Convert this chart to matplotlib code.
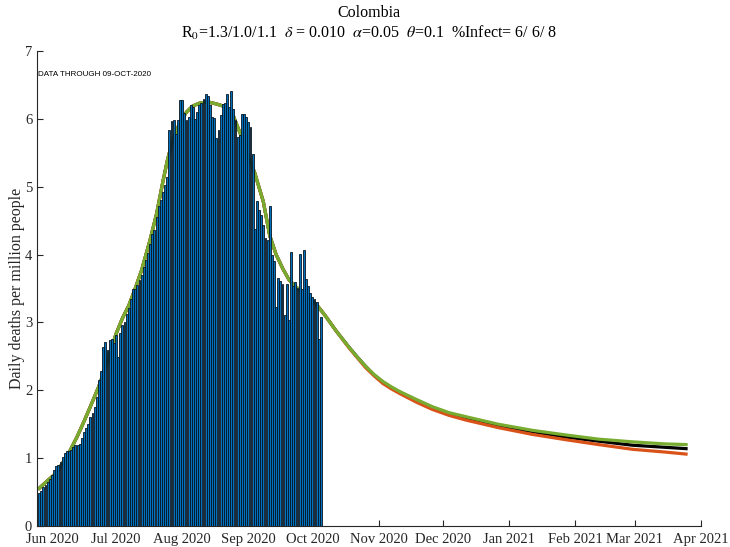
import matplotlib
matplotlib.use("Agg")
import matplotlib.pyplot as plt
import matplotlib.dates as mdates
import numpy as np
from datetime import datetime, timedelta

plt.rcParams['font.family'] = ['Liberation Serif', 'DejaVu Serif']
plt.rcParams['mathtext.fontset'] = 'stix'

# ---- data ----
bar_start = datetime(2020, 5, 26)
daily_deaths = [
    0.49, 0.52, 0.58, 0.61, 0.65, 0.69, 0.75, 0.82, 0.89, 0.90,
    0.95, 1.01, 1.07, 1.11, 1.11, 1.12, 1.17, 1.19, 1.20, 1.21,
    1.29, 1.39, 1.45, 1.51, 1.61, 1.66, 1.76, 1.90, 2.15, 2.28,
    2.64, 2.71, 2.60, 2.74, 2.75, 2.70, 2.81, 2.49, 2.84, 2.96,
    3.00, 3.12, 3.22, 3.35, 3.49, 3.50, 3.55, 3.63, 3.70, 3.82,
    3.92, 4.02, 4.16, 4.31, 4.36, 4.56, 4.71, 4.80, 4.92, 5.02,
    5.14, 5.84, 5.97, 5.98, 5.78, 5.98, 6.28, 6.28, 6.09, 5.98,
    6.03, 6.20, 6.18, 6.00, 6.10, 6.20, 6.23, 6.30, 6.37, 6.33,
    6.20, 6.03, 6.01, 5.72, 5.83, 6.05, 6.22, 6.23, 6.37, 6.18,
    6.41, 6.15, 5.99, 5.74, 5.76, 6.07, 6.07, 6.03, 5.96, 5.88,
    5.48, 4.38, 4.79, 4.65, 4.58, 4.43, 4.24, 4.22, 4.71, 3.99,
    3.90, 3.23, 3.66, 3.61, 3.57, 3.11, 3.56, 3.03, 4.04, 3.54,
    3.59, 3.51, 4.01, 3.49, 4.07, 3.64, 3.54, 3.43, 3.37, 3.34,
    3.30, 2.76, 3.08,
]

# model curves: day offsets from bar_start and values
line_days = [0, 4, 8, 11, 14, 18, 21, 24, 28, 32, 36, 39, 42, 45, 48, 52, 55, 58,
             60, 62, 64, 66, 69, 72, 75, 79, 83, 86, 89, 91, 93, 95, 98, 101, 105,
             108, 111, 114, 117, 120, 125, 130, 134, 139, 145, 149, 153, 157, 161,
             165, 169, 177, 184, 192, 200, 215, 231, 247, 262, 278, 293, 303]
green_vals = [0.555, 0.67, 0.78, 0.93, 1.08, 1.33, 1.54, 1.76, 2.06, 2.42, 2.83, 3.06,
              3.25, 3.50, 3.77, 4.22, 4.60, 5.08, 5.38, 5.62, 5.80, 5.95, 6.10, 6.19,
              6.23, 6.25, 6.22, 6.19, 6.10, 6.04, 5.88, 5.72, 5.45, 5.20, 4.78, 4.28,
              4.00, 3.80, 3.63, 3.53, 3.40, 3.26, 3.10, 2.88, 2.64, 2.49, 2.35, 2.23,
              2.13, 2.05, 1.98, 1.86, 1.76, 1.67, 1.61, 1.50, 1.41, 1.34, 1.28, 1.24,
              1.21, 1.20]
black_vals = [0.555, 0.67, 0.78, 0.93, 1.08, 1.33, 1.54, 1.76, 2.06, 2.42, 2.83, 3.06,
              3.25, 3.50, 3.77, 4.22, 4.60, 5.08, 5.38, 5.62, 5.80, 5.95, 6.10, 6.19,
              6.23, 6.25, 6.22, 6.19, 6.10, 6.04, 5.88, 5.72, 5.45, 5.20, 4.78, 4.28,
              4.00, 3.80, 3.63, 3.53, 3.40, 3.26, 3.10, 2.88, 2.64, 2.49, 2.35, 2.22,
              2.12, 2.04, 1.97, 1.85, 1.75, 1.66, 1.59, 1.48, 1.39, 1.31, 1.25, 1.19,
              1.16, 1.14]
orange_vals = [0.555, 0.67, 0.78, 0.93, 1.08, 1.33, 1.54, 1.76, 2.06, 2.42, 2.83, 3.06,
               3.25, 3.50, 3.77, 4.22, 4.60, 5.08, 5.38, 5.62, 5.80, 5.95, 6.10, 6.19,
               6.23, 6.25, 6.22, 6.19, 6.10, 6.04, 5.88, 5.72, 5.45, 5.20, 4.78, 4.28,
               4.00, 3.80, 3.63, 3.53, 3.40, 3.26, 3.10, 2.88, 2.63, 2.48, 2.33, 2.21,
               2.10, 2.02, 1.95, 1.82, 1.72, 1.63, 1.56, 1.45, 1.35, 1.27, 1.20, 1.13,
               1.09, 1.06]

title_line1 = "Colombia"
title_line2 = r"R$_0$=1.3/1.0/1.1  $\delta$ = 0.010  $\alpha$=0.05  $\theta$=0.1  %Infect= 6/ 6/ 8"
ylabel = "Daily deaths per million people"
note = "DATA THROUGH 09-OCT-2020"

# ---- figure ----
fig = plt.figure(figsize=(7.30, 5.47), dpi=100)
ax = fig.add_axes([37/730, 1 - 526/547, (701 - 37)/730, (526 - 51)/547])

bar_dates = [bar_start + timedelta(days=i) for i in range(len(daily_deaths))]
line_dates = [bar_start + timedelta(days=d) for d in line_days]

ax.plot(line_dates, black_vals, color='black', lw=2.3, zorder=2, solid_joinstyle='round')
ax.plot(line_dates, orange_vals, color='#D95319', lw=2.3, zorder=2.1, solid_joinstyle='round')
ax.plot(line_dates, green_vals, color='#77AC30', lw=2.3, zorder=2.2, solid_joinstyle='round')
ax.bar(bar_dates, daily_deaths, width=0.88, color='#0072BD', edgecolor='#081420',
       linewidth=0.6, zorder=3)

ax.set_xlim(datetime(2020, 5, 25), datetime(2021, 4, 1))
ax.set_ylim(0, 7)
ax.set_yticks(range(0, 8))
ax.xaxis.set_major_locator(mdates.MonthLocator())
ax.xaxis.set_major_formatter(mdates.DateFormatter('%b %Y'))

for s in ['top', 'right']:
    ax.spines[s].set_visible(False)
for s in ['left', 'bottom']:
    ax.spines[s].set_color('#262626')
    ax.spines[s].set_linewidth(0.8)
ax.tick_params(direction='in', length=4, width=0.8, colors='#262626',
               labelsize=10.5, labelcolor='#262626')
ax.tick_params(axis='x', pad=5)
ax.set_ylabel(ylabel, fontsize=11.5, color='#262626')
ax.yaxis.set_label_coords(-0.018, 0.5)

fig.text(369/730, 1 - 13/547, title_line1, ha='center', va='center', fontsize=11.5, color='black')
fig.text(369/730, 1 - 33/547, title_line2, ha='center', va='center', fontsize=11.5, color='black')
fig.text(38/730, 1 - 74/547, note, ha='left', va='center', fontsize=5.8,
         family=['Liberation Sans', 'DejaVu Sans'], color='black')

fig.savefig('out.png', dpi=100)
